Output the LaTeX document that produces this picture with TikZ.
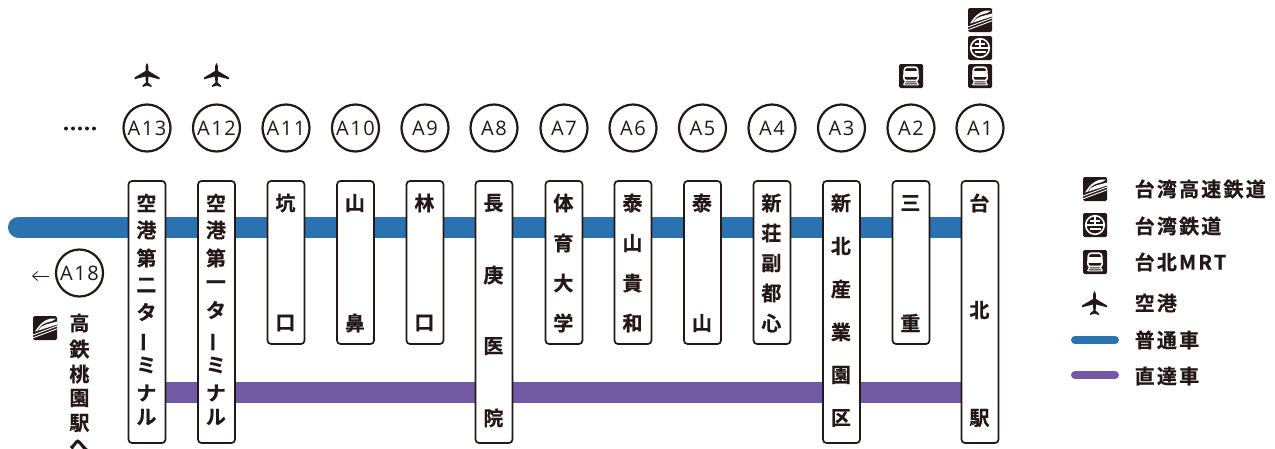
\documentclass[tikz,border=0pt]{standalone}
\usepackage{fontspec}
\usetikzlibrary{arrows.meta,calc}
\newfontfamily\jpfont[LetterSpace=11,FakeBold=0.6]{Noto Sans CJK JP Bold}
\newfontfamily\jpboxfont[FakeBold=0.6]{Noto Sans CJK JP Bold}
\newfontfamily\latinfont[LetterSpace=8]{Open Sans}
\definecolor{ink}{HTML}{231815}
\definecolor{lineblue}{HTML}{2A72B0}
\definecolor{linepurple}{HTML}{7259A3}
\tikzset{
  stbox/.style={draw=ink,line width=1.7pt,fill=white,rounded corners=3.5pt,minimum width=37pt,inner sep=0pt},
  stcirc/.style={circle,draw=ink,line width=2.2pt,fill=white,minimum size=47pt,inner sep=0pt,text=ink,font=\fontsize{20}{20}\selectfont\latinfont},
  stchar/.style={text=ink,inner sep=0pt,font=\fontsize{20}{20}\selectfont\jpboxfont,xshift=-.6pt},
  legtext/.style={anchor=west,text=ink,inner sep=0pt,font=\fontsize{20}{20}\selectfont\jpfont},
  hsricon/.pic={
    \fill[ink,rounded corners=1.5pt] (0,0) rectangle (24,24);
    \fill[white] (2,15.5) .. controls (6,9) and (11,3.5) .. (18,2.5) -- (23,2.5) .. controls (20,5) and (17,6) .. (14,6.5)
       .. controls (10,7.5) and (6,11) .. (5,14.5) -- cycle;
    \fill[white] (5.5,14.5) .. controls (7,11) and (10,9.5) .. (13,8.5) -- (24,5.5) -- (24,8.5) -- cycle;
    \draw[white,line width=.9pt] (0,19) -- (24,10) (0,21.8) -- (24,12.8);
  },
  traicon/.pic={
    \fill[ink,rounded corners=1.5pt] (0,0) rectangle (24,24);
    \draw[white,line width=1.6pt] (12,12) circle (9.3);
    \draw[white,line width=1.6pt] (2.7,12.2) -- (21.3,12.2) (12,2.7) -- (12,12.2) (7,7.8) -- (17,7.8);
    \draw[white,line width=1.6pt] (6.5,16) -- (17.5,16);
  },
  mrticon/.pic={
    \fill[ink,rounded corners=1.5pt] (0,0) rectangle (24,24);
    \draw[white,line width=1.6pt,rounded corners=2.5pt] (5.5,3.2) -- (18.5,3.2) -- (19.3,16.5) -- (4.7,16.5) -- cycle;
    \fill[white] (6.2,7) rectangle (17.8,12.5);
    \draw[white,line width=1pt] (6.5,17) -- (4.5,21) (17.5,17) -- (19.5,21) (5,20.8) -- (19,20.8) (6,18.8) -- (18,18.8);
  },
  planeicon/.pic={
    \fill[ink] (12.5,0) .. controls (13.6,0.5) and (14,3) .. (14,8)
      -- (25,14.5) -- (25,16.3) -- (14,13.5) -- (13.6,19.5) -- (17,22.5) -- (17,24) -- (12.5,22.5)
      -- (8,24) -- (8,22.5) -- (11.4,19.5) -- (11,13.5) -- (0,16.3) -- (0,14.5) -- (11,8)
      .. controls (11,3) and (11.4,0.5) .. (12.5,0) -- cycle;
  }
}
% name, number, x, last y, list of y/char
\newcommand{\stationcol}[5]{%
  \node[stcirc] (c#1) at (#2,128) {#3};
  \node[stbox,minimum height={#4-181}] (b#1) at (#2,{(181+#4)/2}) {};
  \foreach \yy/\ch [count=\i] in {#5} {\node[stchar] (t#1-\i) at (#2,\yy) {\ch};}%
}
\newcommand{\vbar}{\rotatebox{90}{ー}}
\begin{document}
\begin{tikzpicture}[x=1pt,y=-1pt]
\useasboundingbox (0,0) rectangle (1275,448);
\fill[white] (0,0) rectangle (1275,448);
% lines
\coordinate (blueL) at (18.5,227);
\coordinate (blueR) at (980,227);
\coordinate (purL) at (147,392.5);
\coordinate (purR) at (980,392.5);
\draw[lineblue,line width=21pt,line cap=round] (blueL) -- (blueR);
\draw[linepurple,line width=21pt] (purL) -- (purR);
% stations
\stationcol{13}{147}{A13}{443}{203/空,230/港,258/第,285/二,312/タ,342/\vbar,365/ミ,393/ナ,417/ル}
\stationcol{12}{216.5}{A12}{443}{203/空,230/港,258/第,285/一,310/タ,342/\vbar,365/ミ,393/ナ,417/ル}
\stationcol{11}{286}{A11}{344}{203/坑,323/口}
\stationcol{10}{355.5}{A10}{344}{203/山,323/鼻}
\stationcol{9}{425}{A9}{344}{203/林,323/口}
\stationcol{8}{494}{A8}{443}{203/長,275/庚,346/医,418/院}
\stationcol{7}{564}{A7}{344}{203/体,243/育,283/大,323/学}
\stationcol{6}{633}{A6}{344}{203/泰,243/山,283/貴,323/和}
\stationcol{5}{702.5}{A5}{344}{203/泰,323/山}
\stationcol{4}{772}{A4}{344}{203/新,233/荘,263/副,293/都,323/心}
\stationcol{3}{841.5}{A3}{443}{203/新,246/北,289/産,332/業,375/園,418/区}
\stationcol{2}{911}{A2}{344}{203/三,323/重}
\stationcol{1}{980}{A1}{443}{203/台,310/北,418/駅}
% transfer icons
\pic at (968,8) {hsricon};
\pic at (968,36) {traicon};
\pic at (968,64) {mrticon};
\pic at (899,64) {mrticon};
\pic at (134.5,63) {planeicon};
\pic at (204,63) {planeicon};
% dots
\foreach \dx [count=\i] in {66,73,80,87,94} {\fill[ink] (\dx,128.5) circle (2);}
% A18
\node[stcirc] (c18) at (79.5,273) {A18};
\coordinate (arrowEnd) at (32,276);
\draw[ink,line width=.8pt,-{Straight Barb[length=5pt,width=9pt]}] ($(c18.west)+(-6,3)$) -- (arrowEnd);
\pic at (33,316) {hsricon};
\foreach \yy/\ch [count=\i] in {323/高,349/鉄,374/桃,398/園,423/駅,446/へ} {\node[stchar] (ty-\i) at (80,\yy) {\ch};}
% legend
\pic at (1083,177) {hsricon};
\pic at (1083,213) {traicon};
\pic at (1083,250) {mrticon};
\pic at (1082,291) {planeicon};
\coordinate (la) at (1075,340);
\coordinate (lb) at (1115,340);
\coordinate (lc) at (1075,375);
\coordinate (ld) at (1115,375);
\draw[lineblue,line width=8pt,line cap=round] (la) -- (lb);
\draw[linepurple,line width=8pt,line cap=round] (lc) -- (ld);
\node[legtext] (l1) at (1134.5,189) {台湾高速鉄道};
\node[legtext] (l2) at (1134.5,226) {台湾鉄道};
\node[legtext] (l3) at (1134.5,262) {台北MRT};
\node[legtext] (l4) at (1134.5,303) {空港};
\node[legtext] (l5) at (1134.5,340) {普通車};
\node[legtext] (l6) at (1134.5,376) {直達車};
\end{tikzpicture}
\end{document}
